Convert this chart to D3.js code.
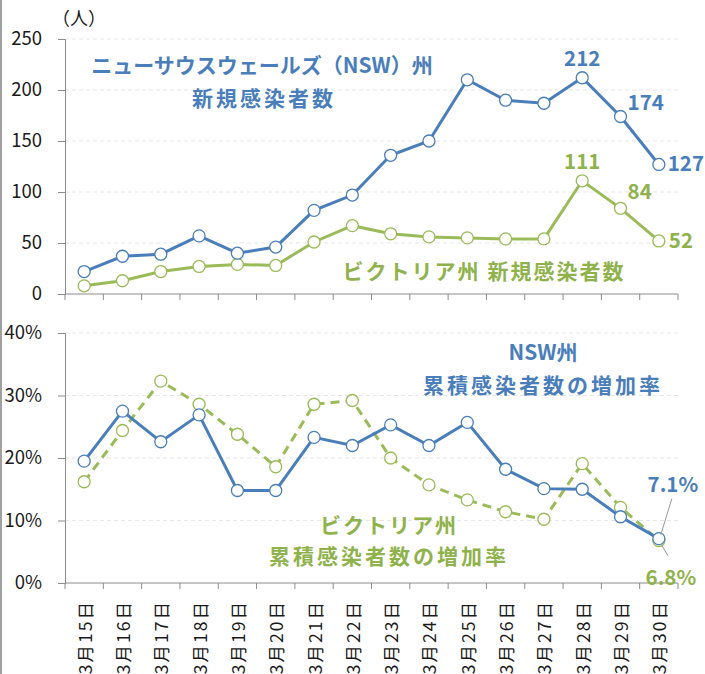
<!DOCTYPE html>
<html>
<head>
<meta charset="utf-8">
<script src="https://cdn.jsdelivr.net/npm/d3@7"></script>
<style>
  body { margin: 0; background: #fff; }
  svg { display: block; }
  text { font-family: "Noto Sans CJK JP", "Liberation Sans", sans-serif; }
</style>
</head>
<body>
<svg width="705" height="674"></svg>
<script>
const dates = ["3月15日","3月16日","3月17日","3月18日","3月19日","3月20日","3月21日","3月22日",
  "3月23日","3月24日","3月25日","3月26日","3月27日","3月28日","3月29日","3月30日"];
const nswNew = [22, 37, 39, 57, 40, 46, 82, 97, 136, 150, 210, 190, 187, 212, 174, 127];
const vicNew = [8, 13, 22, 27, 29, 28, 51, 67, 59, 56, 55, 54, 54, 111, 84, 52];
const nswRate = [0.195, 0.275, 0.226, 0.269, 0.148, 0.148, 0.233, 0.220, 0.253, 0.220, 0.257, 0.182, 0.151, 0.150, 0.106, 0.071];
const vicRate = [0.162, 0.244, 0.323, 0.286, 0.238, 0.186, 0.286, 0.292, 0.200, 0.157, 0.133, 0.114, 0.102, 0.191, 0.121, 0.068];
const topTicks = [0, 50, 100, 150, 200, 250];
const rateTicks = [0, 0.1, 0.2, 0.3, 0.4];

const blue = "#4a7ebb";
const green = "#9bbb59";
const greenText = "#8fb24c";

const svg = d3.select("svg");
const W = +svg.attr("width");

// left frame edge
svg.append("line").attr("x1", 1).attr("x2", 1).attr("y1", 0).attr("y2", 674)
  .attr("stroke", "#a0a0a0").attr("stroke-width", 2);

const x = d3.scaleBand().domain(dates).range([65, 678]);
const bw = x.bandwidth();
const cx = d => x(d) + bw / 2;

const yTop = d3.scaleLinear().domain([0, 250]).range([294, 39]);
const yBot = d3.scaleLinear().domain([0, 0.4]).range([583, 333]);

function panel(y, ticks, fmt) {
  const g = svg.append("g");
  // faint grid
  g.selectAll("line.grid").data(ticks.slice(1)).join("line")
    .attr("x1", 65).attr("x2", 678)
    .attr("y1", d => y(d)).attr("y2", d => y(d))
    .attr("stroke", "#e6e6e6").attr("stroke-dasharray", "4,3");

  const yAxis = d3.axisLeft(y).tickValues(ticks).tickSize(7).tickPadding(16).tickFormat(fmt);
  const ya = g.append("g").attr("transform", "translate(65,0)").call(yAxis);
  ya.select(".domain").attr("stroke", "#8c8c8c");
  ya.selectAll(".tick line").attr("stroke", "#8c8c8c");
  ya.selectAll(".tick text").attr("font-family", "Liberation Sans, sans-serif")
    .attr("font-size", 18.5).attr("fill", "#1a1a1a");

  const base = y.range()[0];
  g.append("line").attr("x1", 65).attr("x2", 678).attr("y1", base).attr("y2", base)
    .attr("stroke", "#8c8c8c");
  const bounds = dates.map(d => x(d)).concat([x.range()[1]]);
  g.selectAll("line.xt").data(bounds).join("line")
    .attr("x1", d => d).attr("x2", d => d)
    .attr("y1", base).attr("y2", base + 6)
    .attr("stroke", "#8c8c8c");
  return g;
}

function series(g, y, vals, color, dash) {
  const line = d3.line().x((d, i) => cx(dates[i])).y(d => y(d));
  g.append("path").attr("d", line(vals)).attr("fill", "none")
    .attr("stroke", color).attr("stroke-width", 3)
    .attr("stroke-dasharray", dash || null);
  g.selectAll(null).data(vals).join("circle")
    .attr("cx", (d, i) => cx(dates[i])).attr("cy", d => y(d))
    .attr("r", 6).attr("fill", "#fff").attr("stroke", color).attr("stroke-width", 1.3);
}

const gTop = panel(yTop, topTicks, d3.format("d"));
series(gTop, yTop, vicNew, green);
series(gTop, yTop, nswNew, blue);

const gBot = panel(yBot, rateTicks, d3.format(".0%"));
series(gBot, yBot, vicRate, green, "9,6");
series(gBot, yBot, nswRate, blue);

// x labels (rotated)
svg.selectAll("text.xl").data(dates).join("text")
  .attr("transform", d => `translate(${cx(d)},600) rotate(-90)`)
  .attr("text-anchor", "end").attr("dominant-baseline", "central")
  .attr("font-size", 17.5).attr("letter-spacing", 2).attr("fill", "#1a1a1a")
  .text(d => d);

// unit
svg.append("text").attr("x", 52).attr("y", 25).attr("font-size", 18).attr("fill", "#1a1a1a")
  .text("（人）");

function label(txt, xx, yy, color, size, anchor, ls) {
  svg.append("text").attr("x", xx).attr("y", yy)
    .attr("text-anchor", anchor || "middle")
    .attr("font-size", size).attr("font-weight", "bold")
    .attr("letter-spacing", ls || 0)
    .attr("fill", color).text(txt);
}

// series titles
label("ニューサウスウェールズ（NSW）州", 262, 73, blue, 21, "middle", 0);
label("新規感染者数", 264, 106, blue, 21, "middle", 3);
label("ビクトリア州  新規感染者数", 484, 279, greenText, 21, "middle", 2);
label("NSW州", 543, 360, blue, 21, "middle", 0);
label("累積感染者数の増加率", 543, 393, blue, 21, "middle", 3);
label("ビクトリア州", 389, 533, greenText, 21, "middle", 2);
label("累積感染者数の増加率", 389, 564, greenText, 21, "middle", 3);

// value labels
const vfont = "Liberation Sans, sans-serif";
function vlabel(txt, xx, yy, color, anchor) {
  svg.append("text").attr("x", xx).attr("y", yy)
    .attr("text-anchor", anchor || "middle")
    .attr("font-family", vfont).attr("font-size", 20.5).attr("font-weight", "bold")
    .attr("fill", color).text(txt);
}
const i28 = dates[13], i29 = dates[14], i30 = dates[15];
vlabel(d3.format("d")(nswNew[13]), cx(i28), yTop(nswNew[13]) - 12, blue);
vlabel(d3.format("d")(nswNew[14]), cx(i29) + 7, yTop(nswNew[14]) - 7, blue, "start");
vlabel(d3.format("d")(nswNew[15]), W - 1, yTop(nswNew[15]) + 7, blue, "end");
vlabel(d3.format("d")(vicNew[13]), cx(i28), yTop(vicNew[13]) - 12, greenText);
vlabel(d3.format("d")(vicNew[14]), cx(i29) + 7, yTop(vicNew[14]) - 9, greenText, "start");
vlabel(d3.format("d")(vicNew[15]), cx(i30) + 10, yTop(vicNew[15]) + 7, greenText, "start");

// last rate labels with leader lines
const px = cx(i30);
const pyN = yBot(nswRate[15]), pyV = yBot(vicRate[15]);
vlabel(d3.format(".1%")(nswRate[15]), px + 14, pyN - 47, blue);
svg.append("line").attr("x1", px + 13).attr("y1", pyN - 40).attr("x2", px + 2).attr("y2", pyN - 4)
  .attr("stroke", "#9a9a9a").attr("stroke-width", 1);
vlabel(d3.format(".1%")(vicRate[15]), px + 12, pyV + 44, greenText);
svg.append("line").attr("x1", px + 3).attr("y1", pyV + 5).attr("x2", px + 9).attr("y2", pyV + 15)
  .attr("stroke", "#9a9a9a").attr("stroke-width", 1);
</script>
</body>
</html>
